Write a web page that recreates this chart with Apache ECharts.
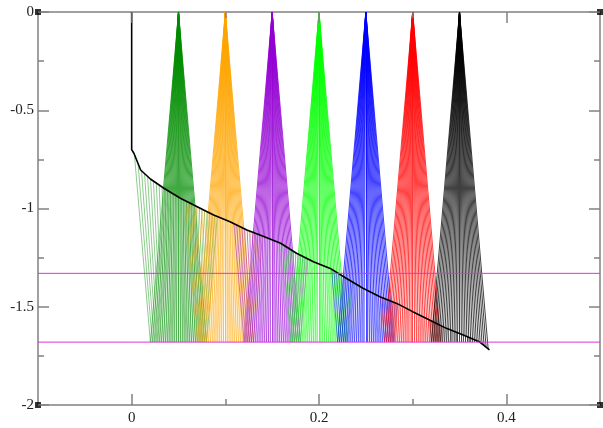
<!DOCTYPE html>
<html>
<head>
<meta charset="utf-8">
<script src="https://cdn.jsdelivr.net/npm/echarts@6/dist/echarts.min.js"></script>
<style>
  html, body { margin: 0; padding: 0; background: #fff; }
  #chart { width: 603px; height: 428px; }
</style>
</head>
<body>
<div id="chart"></div>
<script>
// Axis extents and ticks
const xRange = [-0.1, 0.5];
const yRange = [-2, 0];
const xMajorTicks = [0, 0.2, 0.4];
const xMinorTicks = [0.1, 0.3];
const yMajorTicks = [-2, -1.5, -1, -0.5, 0];
const yMinorTicks = [-1.75, -1.25, -0.75, -0.25];

// Source positions of the ray fans (all start at depth 0) and their colours
const fanApexX = [0.05, 0.10, 0.15, 0.20, 0.25, 0.30, 0.35];
const fanColors = ['#008c00', '#ffa500', '#9400d3', '#00ff00', '#0000ff', '#ff0000', '#000000'];

// Horizontal offset of each ray where it reaches the floor level
const rayOffsets = [-0.030, -0.028, -0.026, -0.024, -0.022, -0.020, -0.018, -0.016,
  -0.014, -0.012, -0.010, -0.008, -0.006, -0.004, -0.002, 0.000, 0.002, 0.004,
  0.006, 0.008, 0.010, 0.012, 0.014, 0.016, 0.018, 0.020, 0.022, 0.024, 0.026,
  0.028, 0.030];

// Front (black curve)
const frontX = [0, 0, 0.0025, 0.0096, 0.020, 0.0344, 0.052, 0.070, 0.0875, 0.105,
  0.123, 0.141, 0.159, 0.176, 0.194, 0.212, 0.229, 0.247, 0.265, 0.283, 0.300,
  0.318, 0.336, 0.354, 0.371, 0.382];
const frontY = [0, -0.700, -0.720, -0.804, -0.850, -0.897, -0.948, -0.991, -1.033,
  -1.067, -1.109, -1.143, -1.177, -1.228, -1.271, -1.305, -1.355, -1.406, -1.449,
  -1.483, -1.525, -1.567, -1.610, -1.644, -1.678, -1.720];

// Reference levels (magenta); the second one is the reflecting floor
const levelY = [-1.33, -1.68];

// Depth of the front at a given x (piecewise linear through frontX/frontY)
function frontAt(x) {
  if (x <= 0) return 0;
  const n = frontX.length;
  if (x >= frontX[n - 1]) return frontY[n - 1];
  for (let i = 1; i < n; i++) {
    if (x <= frontX[i]) {
      const x0 = frontX[i - 1], x1 = frontX[i];
      if (x1 === x0) return frontY[i];
      const t = (x - x0) / (x1 - x0);
      return frontY[i - 1] + t * (frontY[i] - frontY[i - 1]);
    }
  }
  return frontY[n - 1];
}

// First sign change of f on [a,b], scanning from a, refined by bisection
function firstRoot(f, a, b) {
  const steps = 400;
  let prev = a, fp = f(a);
  for (let i = 1; i <= steps; i++) {
    const s = a + (b - a) * i / steps;
    const fs = f(s);
    if ((fp < 0) !== (fs < 0)) {
      let lo = prev, hi = s;
      for (let k = 0; k < 30; k++) {
        const m = (lo + hi) / 2;
        if ((f(m) < 0) === (fp < 0)) lo = m; else hi = m;
      }
      return (lo + hi) / 2;
    }
    prev = s; fp = fs;
  }
  return b;
}

// Ray segments of one fan: above the front, below the front, and reflected off the floor
function fanSegments(c) {
  const floor = levelY[1];
  const above = [], below = [], reflected = [];
  rayOffsets.forEach(d => {
    const xb = c + d;
    const xAt = y => c + d * (y / floor);
    if (frontAt(xb) > floor) {
      // crosses the front, reaches the floor, then travels back up to the front
      const yc = firstRoot(y => y - frontAt(xAt(y)), 0, floor);
      above.push({ coords: [[c, 0], [xAt(yc), yc]] });
      below.push({ coords: [[xAt(yc), yc], [xb, floor]] });
      const xs = s => xb + d * s;
      const ys = s => floor * (1 - s);
      const s = firstRoot(s => ys(s) - frontAt(xs(s)), 0, 1);
      reflected.push({ coords: [[xb, floor], [xs(s), ys(s)]] });
    } else {
      // front lies below the floor here: the ray stops on the front
      const y = firstRoot(y => y - frontAt(xAt(y)), floor, yRange[0]);
      above.push({ coords: [[c, 0], [xAt(y), y]] });
    }
  });
  return { above, below, reflected };
}

const series = [];
fanApexX.forEach((c, i) => {
  const seg = fanSegments(c);
  const mk = (data, opacity) => ({
    type: 'lines', coordinateSystem: 'cartesian2d', silent: true,
    data: data,
    lineStyle: { color: fanColors[i], width: 0.75, opacity: opacity }
  });
  series.push(mk(seg.reflected, 0.6));
  series.push(mk(seg.below, 0.65));
  series.push(mk(seg.above, 1));
});

// front curve
series.push({
  type: 'line', silent: true, showSymbol: false,
  data: frontX.map((x, i) => [x, frontY[i]]),
  lineStyle: { color: '#000', width: 1.6 },
  z: 5
});

// horizontal reference levels across the full x range
levelY.forEach(v => {
  series.push({
    type: 'line', silent: true, showSymbol: false,
    data: [[xRange[0], v], [xRange[1], v]],
    lineStyle: { color: '#dd33dd', width: 1 },
    z: 6
  });
});

// corner markers of the frame
series.push({
  type: 'scatter', silent: true, clip: false, symbol: 'rect', symbolSize: 6,
  itemStyle: { color: '#000' },
  data: [[xRange[0], yRange[1]], [xRange[0], yRange[0]], [xRange[1], yRange[0]], [xRange[1], yRange[1]]],
  z: 7
});

const labelFont = { fontFamily: 'Liberation Serif', fontSize: 15, color: '#222' };
const frameLine = () => ({ show: true, onZero: false, lineStyle: { color: '#808080', width: 1.5 } });

const chart = echarts.init(document.getElementById('chart'), null, { renderer: 'canvas' });
const option = {
  animation: false,
  backgroundColor: '#fff',
  grid: { left: 38, right: 3, top: 12, bottom: 23 },
  xAxis: [
    { type: 'value', position: 'bottom', min: xRange[0], max: xRange[1],
      axisLine: frameLine(), axisTick: { show: false }, splitLine: { show: false },
      axisLabel: Object.assign({ show: true, margin: 6, customValues: xMajorTicks }, labelFont) },
    { type: 'value', position: 'top', min: xRange[0], max: xRange[1],
      axisLine: frameLine(), axisTick: { show: false }, splitLine: { show: false },
      axisLabel: { show: false } }
  ],
  yAxis: [
    { type: 'value', position: 'left', min: yRange[0], max: yRange[1], interval: 0.5,
      axisLine: frameLine(), axisTick: { show: false }, splitLine: { show: false },
      axisLabel: Object.assign({ show: true, margin: 4 }, labelFont) },
    { type: 'value', position: 'right', min: yRange[0], max: yRange[1], interval: 0.5,
      axisLine: frameLine(), axisTick: { show: false }, splitLine: { show: false },
      axisLabel: { show: false } }
  ],
  series: series
};
chart.setOption(option);

// Inward tick marks on all four sides, placed through the grid's own scales:
// each tick starts on the frame and runs a fixed number of pixels inward.
const finder = { gridIndex: 0 };
function tickSegment(x, y, dirX, dirY, lenPx) {
  const p = chart.convertToPixel(finder, [x, y]);
  const q = chart.convertFromPixel(finder, [p[0] + dirX * lenPx, p[1] + dirY * lenPx]);
  return { coords: [[x, y], q] };
}
const ticks = [];
yMajorTicks.forEach(v => { ticks.push(tickSegment(xRange[0], v, 1, 0, 11)); ticks.push(tickSegment(xRange[1], v, -1, 0, 11)); });
yMinorTicks.forEach(v => { ticks.push(tickSegment(xRange[0], v, 1, 0, 6)); ticks.push(tickSegment(xRange[1], v, -1, 0, 6)); });
xMajorTicks.forEach(v => { ticks.push(tickSegment(v, yRange[0], 0, -1, 11)); ticks.push(tickSegment(v, yRange[1], 0, 1, 11)); });
xMinorTicks.forEach(v => { ticks.push(tickSegment(v, yRange[0], 0, -1, 6)); ticks.push(tickSegment(v, yRange[1], 0, 1, 6)); });

series.push({
  type: 'lines', coordinateSystem: 'cartesian2d', silent: true, z: 8,
  data: ticks,
  lineStyle: { color: '#808080', width: 1.5, opacity: 1 }
});
chart.setOption({ series: series });
</script>
</body>
</html>
